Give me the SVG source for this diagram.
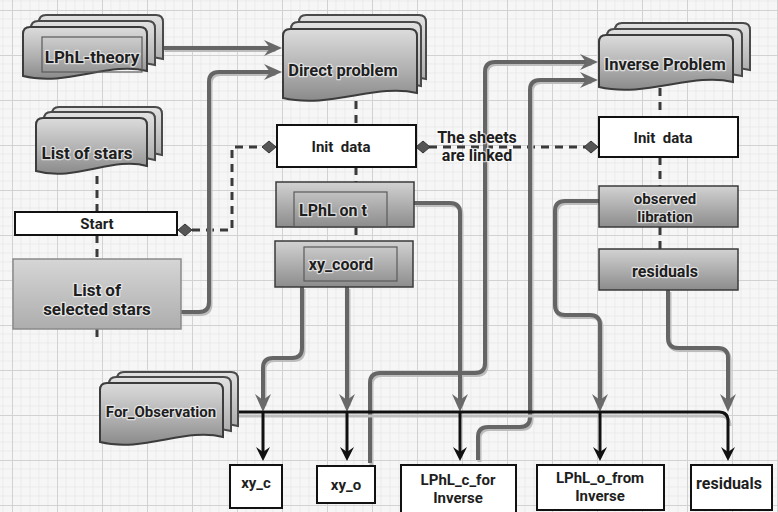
<svg xmlns="http://www.w3.org/2000/svg" xmlns:xlink="http://www.w3.org/1999/xlink" width="778" height="512" viewBox="0 0 778 512">
<defs>
<style>
.t{font-family:Roboto,"Liberation Sans",Arial,sans-serif;font-weight:bold;fill:#1e1e1e;text-anchor:middle}
.h{stroke:#fff;stroke-width:2.5;stroke-opacity:.6;paint-order:stroke;stroke-linejoin:round}
.doc{fill:url(#gDoc);stroke:#3c3c3c;stroke-width:2}
.back{fill:url(#gBack);stroke:#4a4a4a;stroke-width:2}
.box{fill:url(#gBox);stroke:#3a3a3a;stroke-width:1.5}
.inner{fill:none;stroke:#5a5a5a;stroke-width:1.2}
.wb{fill:#fff;stroke:#111;stroke-width:2}
.dash{fill:none;stroke:#3a3a3a;stroke-width:3;stroke-dasharray:8 6}
.sh{fill:none;stroke:#bdbdbd;stroke-width:4}
.th{fill:none;stroke:#656565;stroke-width:4;marker-end:url(#ag)}
.blk{fill:none;stroke:#111;stroke-width:3}
</style>
<linearGradient id="gDoc" x1="0" y1="0" x2="0" y2="1"><stop offset="0" stop-color="#dcdcdc"/><stop offset="0.55" stop-color="#b2b2b2"/><stop offset="1" stop-color="#8a8a8a"/></linearGradient>
<linearGradient id="gBack" x1="0" y1="0" x2="0" y2="1"><stop offset="0" stop-color="#e2e2e2"/><stop offset="1" stop-color="#a6a6a6"/></linearGradient>
<linearGradient id="gBox" x1="0" y1="0" x2="0" y2="1"><stop offset="0" stop-color="#d2d2d2"/><stop offset="1" stop-color="#8c8c8c"/></linearGradient>
<linearGradient id="gSel" x1="0" y1="0" x2="0" y2="1"><stop offset="0" stop-color="#d6d6d6"/><stop offset="1" stop-color="#adadad"/></linearGradient>
<pattern id="grid" width="45" height="45" patternUnits="userSpaceOnUse" x="12" y="10">
<rect width="45" height="45" fill="#f6f6f6"/>
<path d="M9,0V45M18,0V45M27,0V45M36,0V45M0,9H45M0,18H45M0,27H45M0,36H45" stroke="#e6e6e6" stroke-width="0.7"/>
<path d="M0.5,0V45M0,0.5H45" stroke="#d2d2d2" stroke-width="1"/>
</pattern>
<marker id="ag" viewBox="-18 -9 19 18" refX="-8" refY="0" markerWidth="19" markerHeight="18" markerUnits="userSpaceOnUse" orient="auto"><path d="M0,0 L-18,-8 L-12,0 L-18,8 Z" fill="#6a6a6a"/></marker>
<marker id="ab" viewBox="-14 -8 15 16" refX="-6" refY="0" markerWidth="15" markerHeight="16" markerUnits="userSpaceOnUse" orient="auto"><path d="M0,0 L-14,-7 L-9,0 L-14,7 Z" fill="#111"/></marker>
<path id="dia" d="M-7,0 L0,-6 L7,0 L0,6 Z" fill="#555" stroke="#333" stroke-width="1"/>
<path id="p1" d="M163,48 H274"/>
<path id="p2" d="M181,312 H199 Q209,312 209,302 V82 Q209,72 219,72 H274"/>
<path id="p3" d="M370,463 V383 Q370,373 380,373 H475 Q485,373 485,363 V72 Q485,62 495,62 H590"/>
<path id="p4" d="M478,460 V437 Q478,427 488,427 H520 Q530,427 530,417 V90 Q530,80 540,80 H590"/>
<path id="p5" d="M414,203 H450 Q460,203 460,213 V404"/>
<path id="p6" d="M302,287 V348 Q302,358 292,358 H273 Q263,358 263,368 V404"/>
<path id="p7" d="M347,287 V404"/>
<path id="p8" d="M599,201 H565 Q555,201 555,211 V305 Q555,315 565,315 H590 Q600,315 600,325 V404"/>
<path id="p9" d="M668,290 V338 Q668,348 678,348 H718 Q728,348 728,358 V404"/>
</defs>
<rect width="778" height="512" fill="url(#grid)"/>

<g id="connectors">
<path class="dash" d="M97,176 V212"/>
<path class="dash" d="M97,235 V259"/>
<path class="dash" d="M97,329 V342"/>
<path class="dash" d="M192,230 H232 V147 H262"/>
<path class="dash" d="M356,101 V125"/>
<path class="dash" d="M356,167 V182"/>
<path class="dash" d="M356,227 V241"/>
<path class="dash" d="M429,147 H585"/>
<path class="dash" d="M660,88 V117"/>
<path class="dash" d="M660,157 V186"/>
<path class="dash" d="M660,227 V249"/>
<use xlink:href="#dia" x="185" y="230"/>
<use xlink:href="#dia" x="269" y="147"/>
<use xlink:href="#dia" x="423" y="147"/>
<use xlink:href="#dia" x="591" y="147"/>
<g transform="translate(1.5,2)">
<use xlink:href="#p1" class="sh"/><use xlink:href="#p2" class="sh"/><use xlink:href="#p3" class="sh"/><use xlink:href="#p4" class="sh"/><use xlink:href="#p5" class="sh"/><use xlink:href="#p6" class="sh"/><use xlink:href="#p7" class="sh"/><use xlink:href="#p8" class="sh"/><use xlink:href="#p9" class="sh"/>
</g>
<use xlink:href="#p1" class="th"/><use xlink:href="#p2" class="th"/><use xlink:href="#p3" class="th"/><use xlink:href="#p4" class="th"/><use xlink:href="#p5" class="th"/><use xlink:href="#p6" class="th"/><use xlink:href="#p7" class="th"/><use xlink:href="#p8" class="th"/><use xlink:href="#p9" class="th"/>
<path d="M238,416 H720 Q730,416 730,426" fill="none" stroke="#bdbdbd" stroke-width="3"/>
<path class="blk" d="M238,412 H719 Q728,412 728,421 V455" marker-end="url(#ab)"/>
<path class="blk" d="M263,412 V455" marker-end="url(#ab)"/>
<path class="blk" d="M347,412 V455" marker-end="url(#ab)"/>
<path class="blk" d="M460,412 V455" marker-end="url(#ab)"/>
<path class="blk" d="M600,412 V455" marker-end="url(#ab)"/>
</g>

<g id="lphl-theory">
<path class="back" d="M39,22 Q39,15 46,15 H156 Q163,15 163,22 V59 C125.8,49 82.4,75 39,64 Z"/>
<path class="back" d="M31,28 Q31,21 38,21 H148 Q155,21 155,28 V65 C117.8,55 74.4,81 31,70 Z"/>
<path class="doc" d="M23,34 Q23,27 30,27 H140 Q147,27 147,34 V71 C109.8,61 66.4,87 23,76 Z"/>
<rect class="inner" x="42" y="37" width="100" height="35"/>
<text class="t h" x="92" y="63" font-size="17">LPhL-theory</text>
</g>

<g id="list-of-stars">
<path class="back" d="M52,114 Q52,107 59,107 H155 Q162,107 162,114 V155 C129,145 90.5,171 52,160 Z"/>
<path class="back" d="M44,119 Q44,112 51,112 H148 Q155,112 155,119 V160 C121.7,150 82.85,176 44,165 Z"/>
<path class="doc" d="M36,125 Q36,118 43,118 H140 Q147,118 147,125 V166 C113.7,156 74.85,182 36,171 Z"/>
<text class="t h" x="87" y="159" font-size="17">List of stars</text>
</g>

<g id="start">
<rect class="wb" x="15" y="212" width="162" height="23"/>
<text class="t" x="97" y="229" font-size="15">Start</text>
</g>

<g id="selected-stars">
<rect x="13" y="259" width="168" height="70" fill="url(#gSel)" stroke="#8a8a8a" stroke-width="1.5"/>
<text class="t h" x="97" y="296" font-size="17">List of</text>
<text class="t h" x="97" y="315" font-size="17">selected stars</text>
</g>

<g id="direct-problem">
<path class="back" d="M299,22 Q299,15 306,15 H419 Q426,15 426,22 V79 C387.9,69 343.45,95 299,84 Z"/>
<path class="back" d="M291,29 Q291,22 298,22 H414 Q421,22 421,29 V86 C382,76 336.5,102 291,91 Z"/>
<path class="doc" d="M283,36 Q283,29 290,29 H410 Q417,29 417,36 V93 C376.8,83 329.9,109 283,98 Z"/>
<text class="t h" x="343" y="76" font-size="16.5">Direct problem</text>
</g>

<g id="init-direct">
<rect class="wb" x="277" y="125" width="139" height="42"/>
<text class="t" x="341" y="152" font-size="15" xml:space="preserve">Init  data</text>
</g>

<g id="linked-label">
<text class="t h" x="477" y="143" font-size="16">The sheets</text>
<text class="t h" x="477" y="161" font-size="16">are linked</text>
</g>

<g id="lphl-on-t">
<rect class="box" x="276" y="182" width="138" height="45"/>
<rect class="inner" x="294" y="192" width="93" height="35"/>
<text class="t h" x="333" y="216" font-size="16">LPhL on t</text>
</g>

<g id="xy-coord">
<rect class="box" x="275" y="241" width="138" height="46"/>
<rect class="inner" x="304" y="247" width="93" height="34"/>
<text class="t h" x="341" y="270" font-size="16">xy_coord</text>
</g>

<g id="inverse-problem">
<path class="back" d="M615,30 Q615,23 622,23 H743 Q750,23 750,30 V70 C709.5,60 662.25,86 615,75 Z"/>
<path class="back" d="M607,36 Q607,29 614,29 H735 Q742,29 742,36 V76 C701.5,66 654.25,92 607,81 Z"/>
<path class="doc" d="M599,42 Q599,35 606,35 H726 Q733,35 733,42 V82 C692.8,72 645.9,98 599,87 Z"/>
<text class="t h" x="665" y="70" font-size="16.5">Inverse Problem</text>
</g>

<g id="init-inverse">
<rect class="wb" x="599" y="117" width="139" height="40"/>
<text class="t" x="663" y="143" font-size="15" xml:space="preserve">Init  data</text>
</g>

<g id="observed-libration">
<rect class="box" x="599" y="186" width="139" height="41"/>
<text class="t h" x="665" y="204" font-size="15">observed</text>
<text class="t h" x="665" y="222" font-size="15">libration</text>
</g>

<g id="residuals-inv">
<rect class="box" x="599" y="249" width="139" height="41"/>
<text class="t h" x="665" y="277" font-size="16">residuals</text>
</g>

<g id="for-observation">
<path class="back" d="M117,379 Q117,372 124,372 H231 Q238,372 238,379 V426 C201.7,416 159.35,442 117,431 Z"/>
<path class="back" d="M109,384 Q109,377 116,377 H224 Q231,377 231,384 V431 C194.4,421 151.7,447 109,436 Z"/>
<path class="doc" d="M100,390 Q100,383 107,383 H216 Q223,383 223,390 V437 C186.1,427 143.05,453 100,442 Z"/>
<text class="t h" x="161" y="417" font-size="15">For_Observation</text>
</g>

<g id="xy-c">
<rect class="wb" x="230" y="465" width="52" height="43"/>
<text class="t" x="256" y="488" font-size="15">xy_c</text>
</g>

<g id="xy-o">
<rect class="wb" x="317" y="466" width="58" height="37"/>
<text class="t" x="346" y="490" font-size="15">xy_o</text>
</g>

<g id="lphl-c">
<rect class="wb" x="401" y="465" width="115" height="48"/>
<text class="t" x="458" y="485" font-size="15">LPhL_c_for</text>
<text class="t" x="458" y="503" font-size="15">Inverse</text>
</g>

<g id="lphl-o">
<rect class="wb" x="537" y="465" width="127" height="45"/>
<text class="t" x="600" y="483" font-size="15">LPhL_o_from</text>
<text class="t" x="600" y="501" font-size="15">Inverse</text>
</g>

<g id="residuals-out">
<rect class="wb" x="691" y="465" width="81" height="45"/>
<text class="t" x="729" y="489" font-size="16">residuals</text>
</g>
</svg>
